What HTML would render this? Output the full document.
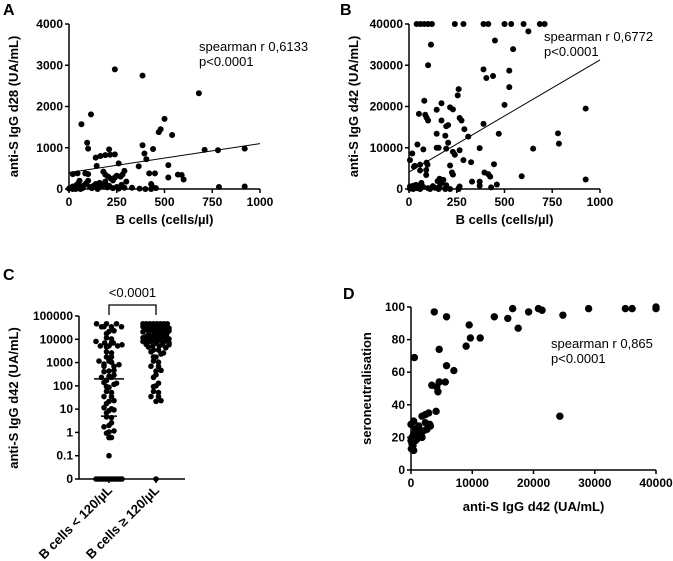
<!DOCTYPE html>
<html><head><meta charset="utf-8"><style>
html,body{margin:0;padding:0;background:#fff;}
svg{display:block;font-family:"Liberation Sans",Arial,sans-serif;}
.tk{font-size:12px;font-weight:bold;fill:#000;}
.ttl{font-size:13px;font-weight:bold;fill:#000;}
.ann{font-size:13px;fill:#000;}
.lt{font-size:16px;font-weight:bold;fill:#000;}
</style></head><body>
<svg id="fig" width="673" height="561" viewBox="0 0 673 561" xmlns="http://www.w3.org/2000/svg"></svg>
<script>
// ---- Panel A data ----
const aX=[240,385,680,65,115,95,100,500,480,470,540,385,395,440,405,710,780,920,210,190,215,240,165,140,145,260,520,365,520,570,590,600,420,450,180,190,205,220,230,240,250,270,280,290,300,20,45,85,100,330,370,430,440,455,785,920,0,10,20,30,40,50,55,60,70,80,90,100,110,120,130,140,150,160,170,180,190,200,210,230,250,260,275,290,20,35,60,150,400,430];
const aY=[2900,2750,2320,1570,1810,1120,980,1700,1450,1380,1310,1060,860,970,720,950,940,980,960,820,830,840,800,760,560,620,580,550,280,350,340,230,380,380,420,350,300,250,210,280,320,300,350,440,180,360,380,380,360,30,10,120,40,20,50,60,10,30,60,20,100,150,200,60,20,90,140,200,50,20,80,120,30,150,60,100,180,40,80,20,50,10,100,30,0,0,0,0,0,0];
const aXTicks=[0,250,500,750,1000];
const aYTicks=[0,1000,2000,3000,4000];
const aFit=[400,0.7];
// ---- Panel B data ----
const bX=[40,60,80,100,120,240,285,390,415,500,535,600,685,710,625,450,115,100,390,525,405,440,545,260,255,525,500,80,85,52,92,100,145,170,170,215,230,265,275,205,195,190,205,145,155,145,75,44,5,17,390,310,290,470,780,785,925,650,590,925,370,265,240,230,195,215,225,230,285,325,92,97,90,90,58,30,26,58,395,415,425,445,460,430,370,370,330,160,150,170,180,125,65,58,37,22,5,14,40,75,100,135,160,190,195,260,265,5,22,58,110,155,190,215,260];
const bY=[40000,40000,40000,40000,40000,40000,40000,40000,40000,40000,40000,40000,40000,40000,38200,36000,35000,30000,29000,28700,26900,27400,33900,24200,22700,24700,20400,21400,18000,18200,17300,16600,19200,16600,20800,19800,19300,17200,16600,15500,15200,12900,11200,13400,10000,10000,9600,10800,7000,8600,15800,12700,14500,13400,13500,11000,19500,9800,3100,2300,9900,9400,8300,9000,9800,5700,4000,3500,7000,6500,6400,5900,4600,3400,4500,5600,5400,5900,4000,3600,3000,6000,1100,400,1800,800,1800,2500,1900,1500,2200,700,1500,800,1000,800,600,300,200,500,200,300,600,100,900,200,600,100,0,0,0,0,0,0,0];
const bXTicks=[0,250,500,750,1000];
const bYTicks=[0,10000,20000,30000,40000];
const bFit=[4100,27.2];
// ---- Panel C data ----
const cCats=["B cells < 120/µL","B cells ≥ 120/µL"];
const cLow=[40000,40000,40000,40000,40000,40000,30000,25000,20000,15000,12000,10000,8000,7000,6000,6000,6000,6000,6000,5000,4000,3000,2500,2000,1500,1200,1000,1000,1000,800,700,600,500,400,350,300,250,200,200,200,150,120,100,100,80,60,50,40,30,25,20,15,12,10,10,8,6,5,4,3,2,1.5,1.2,1,0.8,0.7,0.6,0.1,0,0,0,0,0,0,0,0,0,0,0,0,0,0];
const cHigh=[40000,40000,40000,40000,40000,40000,40000,40000,40000,40000,40000,40000,40000,40000,40000,35000,30000,30000,30000,30000,25000,25000,25000,25000,20000,20000,20000,20000,20000,18000,15000,15000,15000,15000,15000,12000,12000,12000,12000,10000,10000,10000,10000,10000,10000,8000,8000,8000,8000,7000,7000,7000,6000,6000,6000,5000,5000,5000,4000,4000,3000,3000,2500,2000,2000,1500,1200,1000,800,600,500,400,300,200,150,100,80,60,50,40,30,25,20,0];
const cMedians=[200,10000];
const cLowerBar=[5,null];
const cYTicks=["0","0.1","1","10","100","1000","10000","100000"];
// ---- Panel D data ----
const dX=[3800,5800,550,9500,9700,11300,9000,4600,5800,7000,5600,4600,3400,4200,4400,4100,13600,15800,16600,17500,19200,20800,21400,24800,24300,29000,35000,36100,40000,40000,0,440,1250,1800,2340,2880,3050,2610,1800,980,710,330,50,160,440,710,0,160,980,1520,2070,2340,3160,440];
const dY=[97,94,69,89,81,81,76,74,64,61,54,54,52,51,48,36,94,93,99,87,97,99,98,95,33,99,99,99,99,100,28,30,27,33,34,35,28,25,20,22,18,15,13,20,22,25,18,16,19,23,24,29,27,12];
const dXTicks=[0,10000,20000,30000,40000];
const dYTicks=[0,20,40,60,80,100];

const NS="http://www.w3.org/2000/svg";
const svg=document.getElementById('fig');
function mk(tag,attrs,parent,text){const e=document.createElementNS(NS,tag);for(const k in attrs)e.setAttribute(k,attrs[k]);if(text!==undefined)e.textContent=text;(parent||svg).appendChild(e);return e;}
function lin(d0,d1,r0,r1){return v=>r0+(v-d0)/(d1-d0)*(r1-r0);}

function scatterPanel(o){
  const g=mk('g',{});
  
  
  const sx=lin(o.xd[0],o.xd[1],o.x0,o.x1), sy=lin(o.yd[0],o.yd[1],o.y0,o.y1);
  const ax=mk('line',{x1:o.x0,y1:o.y0,x2:o.x1,y2:o.y0,stroke:'#000','stroke-width':1.5},g);
  
  const ay=mk('line',{x1:o.x0,y1:o.y0,x2:o.x0,y2:o.y1,stroke:'#000','stroke-width':1.5},g);
  
  o.xt.forEach(t=>{const x=sx(t);mk('line',{x1:x,y1:o.y0,x2:x,y2:o.y0+4,stroke:'#000','stroke-width':1.5},g);
    const tx=mk('text',{x:x,y:o.y0+17,'text-anchor':'middle',class:'tk'},g,String(t));
    });
  o.yt.forEach(t=>{const y=sy(t);mk('line',{x1:o.x0-4,y1:y,x2:o.x0,y2:y,stroke:'#000','stroke-width':1.5},g);
    const tx=mk('text',{x:o.x0-6,y:y+4,'text-anchor':'end',class:'tk'},g,String(t));
    });
  if(o.fit){const l=mk('line',{x1:sx(o.xd[0]),y1:sy(o.fit[0]+o.fit[1]*o.xd[0]),x2:sx(o.xd[1]),y2:sy(o.fit[0]+o.fit[1]*o.xd[1]),stroke:'#000','stroke-width':1},g);
    }
  o.xs.forEach((v,i)=>{const c=mk('circle',{cx:sx(v),cy:sy(o.ys[i]),r:o.r,fill:'#000'},g);
    });
  const xt=mk('text',{x:(o.x0+o.x1)/2,y:o.xty,'text-anchor':'middle',class:'ttl'},g,o.xtitle);
  
  const yt=mk('text',{x:o.ytx,y:(o.y0+o.y1)/2,'text-anchor':'middle',class:'ttl',transform:`rotate(-90 ${o.ytx} ${(o.y0+o.y1)/2})`},g,o.ytitle);
  
  const a1=mk('text',{x:o.ax,y:o.ay,class:'ann'},g,o.ann);
  
  const a2=mk('text',{x:o.ax,y:o.ay+15,class:'ann'},g,'p<0.0001');
  
  const lt=mk('text',{x:o.lx,y:o.ly,class:'lt'},g,o.letter);
  
}

scatterPanel({name:'panel-a',x0:69,x1:260,y0:189,y1:24,xd:[0,1000],yd:[0,4000],xt:aXTicks,yt:aYTicks,xs:aX,ys:aY,fit:aFit,r:3,
  xtitle:'B cells (cells/µl)',xty:224,ytitle:'anti-S IgG d28 (UA/mL)',ytx:18,ann:'spearman r 0,6133',ax:199,ay:51,letter:'A',lx:3,ly:15});
scatterPanel({name:'panel-b',x0:409,x1:600,y0:189,y1:24,xd:[0,1000],yd:[0,40000],xt:bXTicks,yt:bYTicks,xs:bX,ys:bY,fit:bFit,r:3,
  xtitle:'B cells (cells/µl)',xty:224,ytitle:'anti-S IgG d42 (UA/mL)',ytx:358,ann:'spearman r 0,6772',ax:544,ay:41,letter:'B',lx:340,ly:15});
scatterPanel({name:'panel-d',x0:411,x1:656,y0:470,y1:307,xd:[0,40000],yd:[0,100],xt:dXTicks,yt:dYTicks,xs:dX,ys:dY,fit:null,r:3.7,
  xtitle:'anti-S IgG d42 (UA/mL)',xty:511,ytitle:'seroneutralisation',ytx:371,ann:'spearman r 0,865',ax:551,ay:348,letter:'D',lx:343,ly:299});

// ---- Panel C ----
(function(){
  const g=mk('g',{});
  
  
  const x0=79,x1=185,y0=479,y1=316;
  const step=(y0-y1)/7;
  const sy=v=>v<=0?y0:y0-(Math.log10(v)+2)*step;
  const cx=[109,156];
  const ax=mk('line',{x1:x0,y1:y0,x2:x1,y2:y0,stroke:'#000','stroke-width':1.5},g);
  
  const ay=mk('line',{x1:x0,y1:y0,x2:x0,y2:y1,stroke:'#000','stroke-width':1.5},g);
  
  cYTicks.forEach((t,i)=>{const y=y0-i*step;mk('line',{x1:x0-4,y1:y,x2:x0,y2:y,stroke:'#000','stroke-width':1.5},g);
    const tx=mk('text',{x:x0-6,y:y+4,'text-anchor':'end',class:'tk'},g,t);
    });
  [cLow,cHigh].forEach((vals,gi)=>{
    const bins={};
    vals.forEach(v=>{const y=Math.round(sy(v)/5);(bins[y]=bins[y]||[]).push(v);});
    Object.keys(bins).forEach(k=>{const arr=bins[k];const n=arr.length;
      const sp=n>1?Math.min(5,26/(n-1)):0;
      arr.forEach((v,j)=>{const off=(j-(n-1)/2)*sp;
        const c=mk('circle',{cx:cx[gi]+off,cy:sy(v)+(v>0&&n>1?((j%2)?1.5:-1.5):0),r:2.8,fill:'#000'},g);
        });});
    const m=mk('line',{x1:cx[gi]-15,y1:sy(cMedians[gi]),x2:cx[gi]+15,y2:sy(cMedians[gi]),stroke:'#000','stroke-width':1.5},g);
    
    if(cLowerBar[gi]!==null){const b=mk('line',{x1:cx[gi]-8,y1:sy(cLowerBar[gi]),x2:cx[gi]+8,y2:sy(cLowerBar[gi]),stroke:'#000','stroke-width':1.5},g);
      }
    mk('line',{x1:cx[gi],y1:y0,x2:cx[gi],y2:y0+4,stroke:'#000','stroke-width':1.5},g);
    const lb=mk('text',{x:cx[gi]+4,y:y0+12,'text-anchor':'end',class:'ttl',transform:`rotate(-45 ${cx[gi]+4} ${y0+12})`},g,cCats[gi]);
    
  });
  const br=mk('path',{d:`M${cx[0]} 315 V305 H${cx[1]} V315`,fill:'none',stroke:'#000','stroke-width':1.3},g);
  
  const pv=mk('text',{x:(cx[0]+cx[1])/2,y:297,'text-anchor':'middle',class:'ann'},g,'<0.0001');
  
  const yt=mk('text',{x:18,y:398,'text-anchor':'middle',class:'ttl',transform:'rotate(-90 18 398)'},g,'anti-S IgG d42 (UA/mL)');
  
  const lt=mk('text',{x:3,y:280,class:'lt'},g,'C');
  
})();
</script>
</body></html>
